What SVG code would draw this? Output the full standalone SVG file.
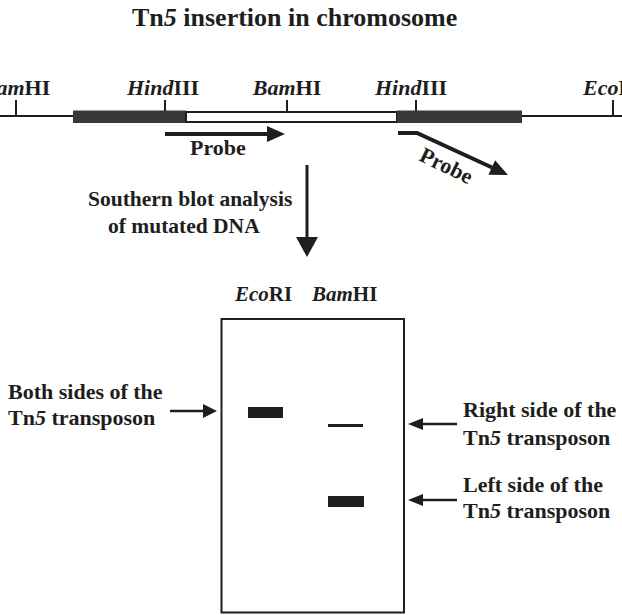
<svg xmlns="http://www.w3.org/2000/svg" width="622" height="615" viewBox="0 0 622 615">
<style>
text{font-family:"Liberation Serif","Times New Roman",serif;font-weight:bold;fill:#1e1e1e}
.i{font-style:italic}
.lab{font-size:22px}
.ln{stroke:#1e1e1e;fill:none}
.ah{fill:#1e1e1e;stroke:none}
</style>
<rect width="622" height="615" fill="#fff"/>
<g id="title"><text x="132" y="26" style="font-size:26px">Tn<tspan class="i">5</tspan> insertion in chromosome</text></g>
<g id="chromosome">
<line class="ln" x1="0" y1="116" x2="622" y2="116" stroke-width="2"/>
<rect x="73" y="110.5" width="113" height="12.5" fill="#383838"/>
<rect x="186" y="112" width="211" height="10" fill="#fff" stroke="#1e1e1e" stroke-width="2"/>
<rect x="397" y="110.5" width="125" height="12.5" fill="#383838"/>
<line class="ln" x1="16" y1="100" x2="16" y2="116" stroke-width="2"/>
<line class="ln" x1="165" y1="100" x2="165" y2="111" stroke-width="2"/>
<line class="ln" x1="287" y1="100" x2="287" y2="112" stroke-width="2"/>
<line class="ln" x1="416" y1="100" x2="416" y2="111" stroke-width="2"/>
<line class="ln" x1="613" y1="100" x2="613" y2="116" stroke-width="2"/>
<text class="lab" x="16" y="95" text-anchor="middle"><tspan class="i">Bam</tspan>HI</text>
<text class="lab" x="163" y="95" text-anchor="middle"><tspan class="i">Hind</tspan>III</text>
<text class="lab" x="287" y="95" text-anchor="middle"><tspan class="i">Bam</tspan>HI</text>
<text class="lab" x="411" y="95" text-anchor="middle"><tspan class="i">Hind</tspan>III</text>
<text class="lab" x="583" y="95"><tspan class="i">Eco</tspan>RI</text>
</g>
<g id="probe1">
<line class="ln" x1="165" y1="134" x2="270" y2="134" stroke-width="4"/>
<polygon class="ah" points="285,134 267,126 267,142"/>
<text class="lab" x="190" y="155">Probe</text>
</g>
<g id="probe2">
<polyline class="ln" points="398,133 417,133 492,167.5" stroke-width="4"/>
<polygon class="ah" points="508,175 488.4,174.8 495.1,160.2"/>
<text class="lab" x="0" y="0" transform="translate(418,160) rotate(26)">Probe</text>
</g>
<g id="connectors">
<line class="ln" x1="307" y1="165" x2="307" y2="240" stroke-width="3"/>
<polygon class="ah" points="307,257 296,237 318,237"/>
<line class="ln" x1="170" y1="411" x2="205" y2="411" stroke-width="2.5"/>
<polygon class="ah" points="217,411 203,404 203,418"/>
<line class="ln" x1="457" y1="424" x2="421" y2="424" stroke-width="2.5"/>
<polygon class="ah" points="408,424 423,418 423,430"/>
<line class="ln" x1="457" y1="500" x2="421" y2="500" stroke-width="2.5"/>
<polygon class="ah" points="408,500 423,494 423,506"/>
</g>
<g id="southern-label">
<text x="88" y="206" style="font-size:21.5px">Southern blot analysis</text>
<text x="108" y="233" style="font-size:21.5px">of mutated DNA</text>
</g>
<g id="gel">
<rect x="221.5" y="319" width="182.5" height="293.5" fill="#fff" stroke="#1e1e1e" stroke-width="2"/>
<text x="235" y="301" style="font-size:21px"><tspan class="i">Eco</tspan>RI</text>
<text x="312" y="301" style="font-size:21px"><tspan class="i">Bam</tspan>HI</text>
<rect x="248" y="407" width="35" height="11" fill="#1e1e1e"/>
<rect x="328" y="424" width="35" height="3" fill="#1e1e1e"/>
<rect x="328" y="496" width="36" height="11" fill="#1e1e1e"/>
</g>
<g id="label-both">
<text class="lab" x="8" y="399">Both sides of the</text>
<text class="lab" x="8" y="425">Tn<tspan class="i">5</tspan> transposon</text>
</g>
<g id="label-right">
<text class="lab" x="463" y="417">Right side of the</text>
<text class="lab" x="463" y="445">Tn<tspan class="i">5</tspan> transposon</text>
</g>
<g id="label-left">
<text class="lab" x="463" y="492">Left side of the</text>
<text class="lab" x="463" y="518">Tn<tspan class="i">5</tspan> transposon</text>
</g>
</svg>
